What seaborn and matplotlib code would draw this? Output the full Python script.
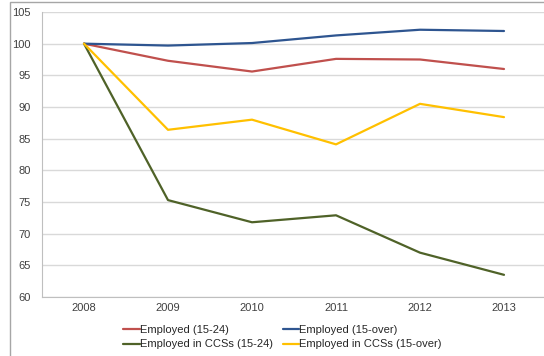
import matplotlib
matplotlib.use("Agg")
import matplotlib.pyplot as plt
import seaborn as sns
import pandas as pd
from matplotlib.patches import Rectangle
from matplotlib.lines import Line2D

years = ["2008", "2009", "2010", "2011", "2012", "2013"]
series_names = ["Employed (15-24)", "Employed (15-over)",
                "Employed in CCSs (15-24)", "Employed in CCSs (15-over)"]
employed_15_24 = [100, 97.3, 95.6, 97.6, 97.5, 96.0]
employed_15_over = [100, 99.7, 100.1, 101.3, 102.2, 102.0]
ccs_15_24 = [100, 75.3, 71.8, 72.9, 67.0, 63.5]
ccs_15_over = [100, 86.4, 88.0, 84.1, 90.5, 88.4]
colors = ["#C0504D", "#2E5590", "#4F6228", "#FFC000"]

values = [employed_15_24, employed_15_over, ccs_15_24, ccs_15_over]
rows = []
for name, vals in zip(series_names, values):
    for i, (yr, v) in enumerate(zip(years, vals)):
        rows.append({"pos": i, "year": yr, "series": name, "value": v})
df = pd.DataFrame(rows)

sns.set_style("white")
plt.rcParams["font.family"] = ["Liberation Sans", "DejaVu Sans"]

fig = plt.figure(figsize=(5.44, 3.56), dpi=100)
ax = fig.add_axes([42 / 544, 1 - 297 / 356, (546 - 42) / 544, (297 - 12) / 356])

ax.set_ylim(60, 105)
ax.set_yticks(range(60, 106, 5))
ax.yaxis.grid(True, color="#D9D9D9", linewidth=1.0)
ax.set_axisbelow(True)

sns.lineplot(data=df, x="pos", y="value", hue="series", hue_order=series_names,
             palette=colors, linewidth=1.6, ax=ax, legend=False, sort=False)

ax.set_xlim(-0.5, 5.5)
ax.set_xticks(range(len(years)))
ax.set_xticklabels(years)
ax.set_xticks([i - 0.5 for i in range(len(years) + 1)], minor=True)
ax.tick_params(axis="x", which="major", length=0, pad=4, labelsize=8, labelcolor="#404040")
ax.tick_params(axis="x", which="minor", length=3, color="#BFBFBF", width=0.8, direction="out")
ax.tick_params(axis="y", which="major", length=3, color="#BFBFBF", width=0.8, pad=5,
               labelsize=8, labelcolor="#404040", direction="out")
ax.set_xlabel("")
ax.set_ylabel("")
for side in ["top", "right"]:
    ax.spines[side].set_visible(False)
for side in ["left", "bottom"]:
    ax.spines[side].set_color("#BFBFBF")
    ax.spines[side].set_linewidth(0.8)

# row-major legend order (matplotlib fills columns first)
order = [0, 2, 1, 3]
handles = [Line2D([0], [0], color=colors[i], linewidth=1.6) for i in order]
labels = [series_names[i] for i in order]
fig.legend(handles, labels, loc="center", bbox_to_anchor=(0.519, 0.053),
           ncol=2, frameon=False, fontsize=8, handlelength=1.5, handletextpad=0.0,
           columnspacing=0.9, labelspacing=0.42, borderaxespad=0, borderpad=0,
           labelcolor="#262626")

fig.patches.append(Rectangle((9.5 / 544, -0.05), 1.2, 1 - 1.5 / 356 + 0.05,
                             transform=fig.transFigure, fill=False,
                             edgecolor="#A6A6A6", linewidth=1.0))

fig.savefig("out.png", dpi=100)
